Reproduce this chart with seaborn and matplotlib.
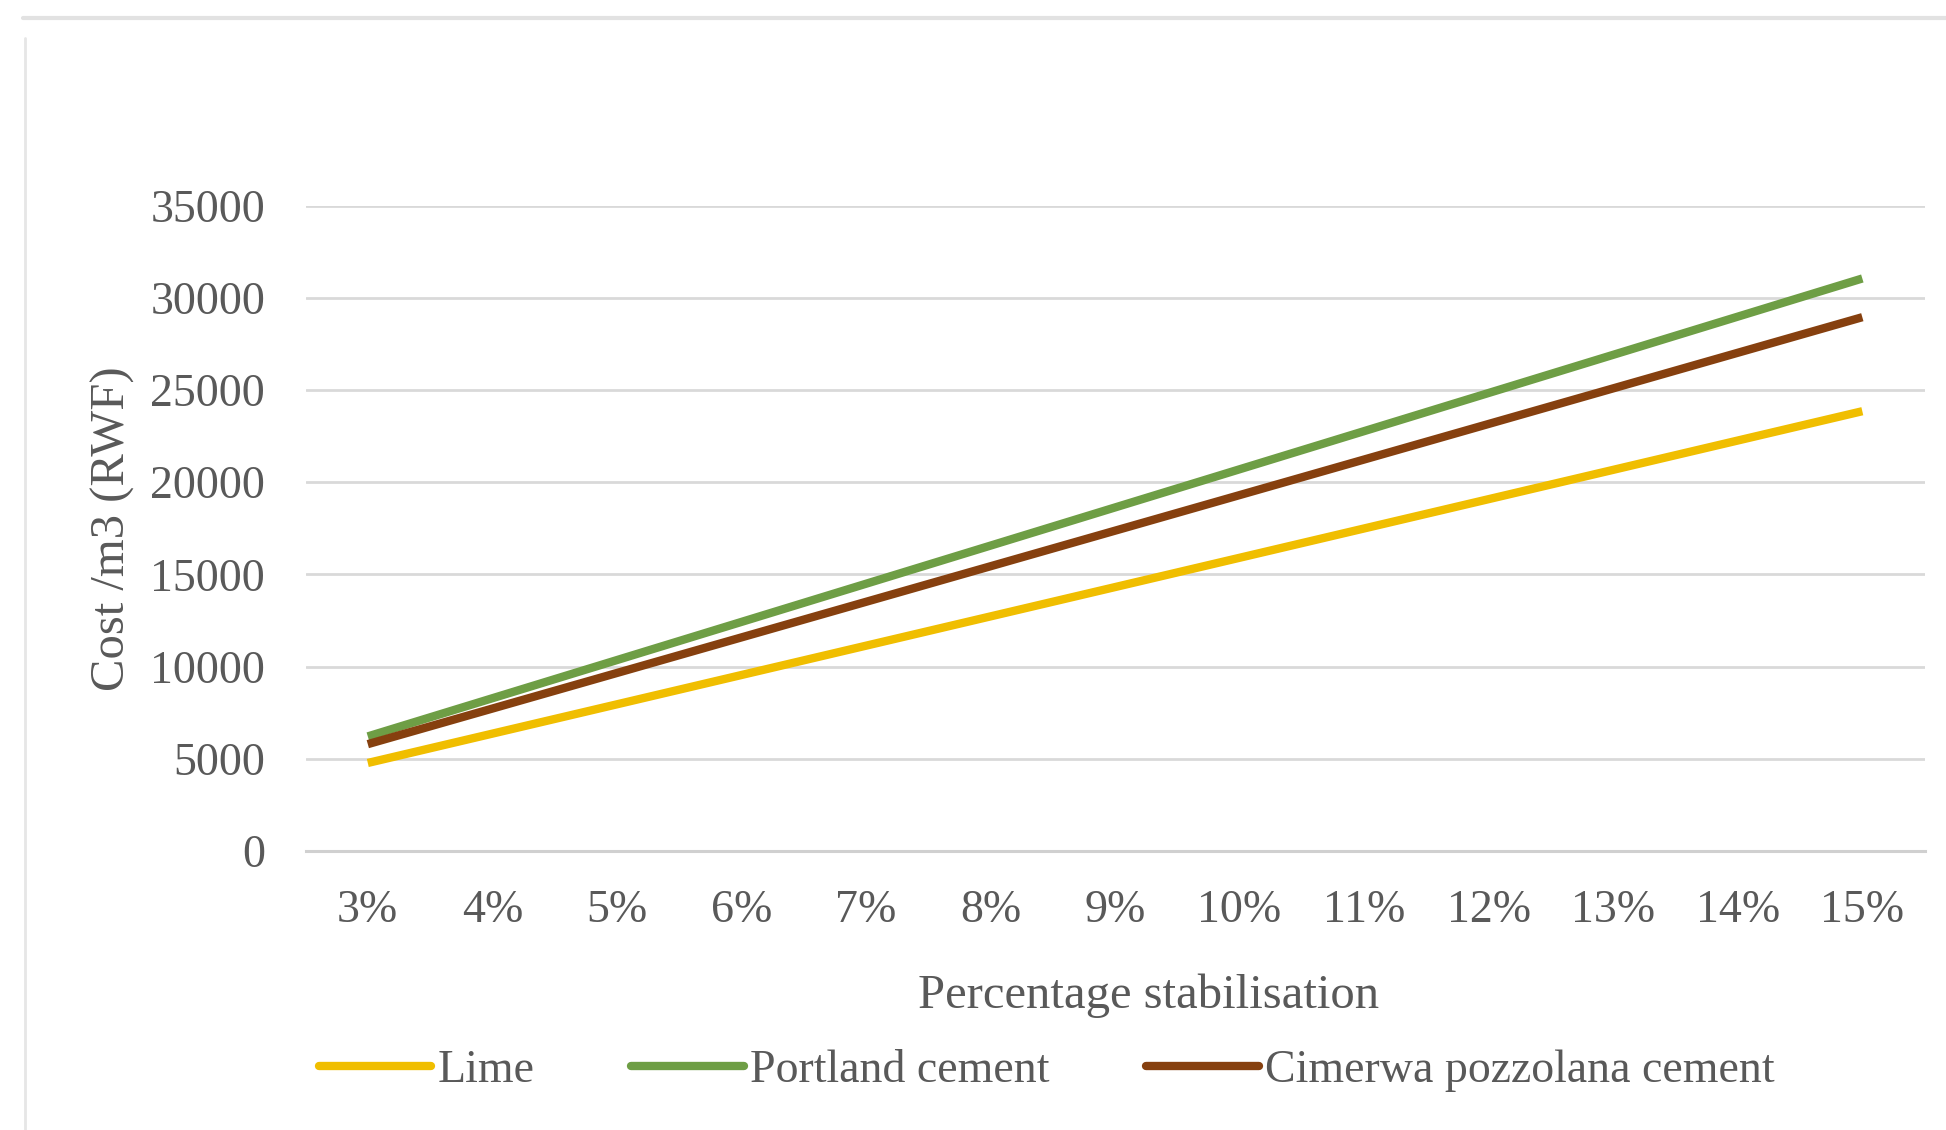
import numpy as np
import pandas as pd
import matplotlib
matplotlib.use("Agg")
import matplotlib.pyplot as plt
from matplotlib.lines import Line2D
import seaborn as sns

# Stabilisation percentages (category axis)
percentages = ["3%", "4%", "5%", "6%", "7%", "8%", "9%", "10%", "11%", "12%", "13%", "14%", "15%"]

# Cost per cubic metre (RWF) for each stabiliser
lime = [4770, 6360, 7950, 9540, 11130, 12720, 14310, 15900, 17490, 19080, 20670, 22260, 23850]
portland = [6210, 8280, 10350, 12420, 14490, 16560, 18630, 20700, 22770, 24840, 26910, 28980, 31050]
cimerwa = [5790, 7720, 9650, 11580, 13510, 15440, 17370, 19300, 21230, 23160, 25090, 27020, 28950]

series_names = ["Lime", "Portland cement", "Cimerwa pozzolana cement"]
series_colors = ["#F0BE00", "#6E9E45", "#86400F"]
y_ticks = [0, 5000, 10000, 15000, 20000, 25000, 30000, 35000]

df = pd.concat([
    pd.DataFrame({"pct": percentages, "pos": range(len(percentages)), "cost": vals, "material": name})
    for name, vals in zip(series_names, [lime, portland, cimerwa])
])

sns.set_theme(style="white")
plt.rcParams["font.family"] = ["Liberation Serif", "DejaVu Serif"]

fig = plt.figure(figsize=(19.46, 11.30), dpi=100)
ax = fig.add_axes([0.157, 0.247, 0.832, 0.571])

sns.lineplot(data=df, x="pos", y="cost", hue="material", hue_order=series_names,
             palette=series_colors, linewidth=6, legend=False, ax=ax,
             solid_capstyle="butt", zorder=3)

ax.set_xlim(-0.5, len(percentages) - 0.5)
ax.set_ylim(0, 35000)
ax.set_yticks(y_ticks)
ax.set_yticklabels([str(v) for v in y_ticks])
ax.set_xticks(range(len(percentages)))
ax.set_xticklabels(percentages)

ax.grid(axis="y", color="#D9D9D9", linewidth=2.0, zorder=0)
ax.grid(axis="x", visible=False)
for side in ["top", "right", "left"]:
    ax.spines[side].set_visible(False)
ax.spines["bottom"].set_color("#D0D0D0")
ax.spines["bottom"].set_linewidth(2.2)

ax.tick_params(axis="both", length=0, labelsize=33, colors="#595959")
ax.tick_params(axis="x", pad=28)
ax.tick_params(axis="y", pad=29)

ax.set_xlabel("Percentage stabilisation", fontsize=35, color="#595959")
ax.xaxis.set_label_coords(0.521, -0.19)
ax.set_ylabel("Cost /m3 (RWF)", fontsize=35, color="#595959", labelpad=11)

handles = [Line2D([0], [0], color=c, linewidth=6) for c in series_colors]
fig.legend(handles, series_names, loc="center", bbox_to_anchor=(0.538, 0.052), ncol=3,
           frameon=False, fontsize=33, handlelength=2.45, handletextpad=0.15,
           columnspacing=2.1, labelcolor="#595959")

# Thin chart-area border along the top and left edges
fig.add_artist(Line2D([0.012, 1.0], [0.984, 0.984], color="#E2E2E2", linewidth=3, transform=fig.transFigure))
fig.add_artist(Line2D([0.013, 0.013], [0.0, 0.966], color="#E6E6E6", linewidth=2, transform=fig.transFigure))

fig.savefig("out.png", dpi=100, facecolor="white")
